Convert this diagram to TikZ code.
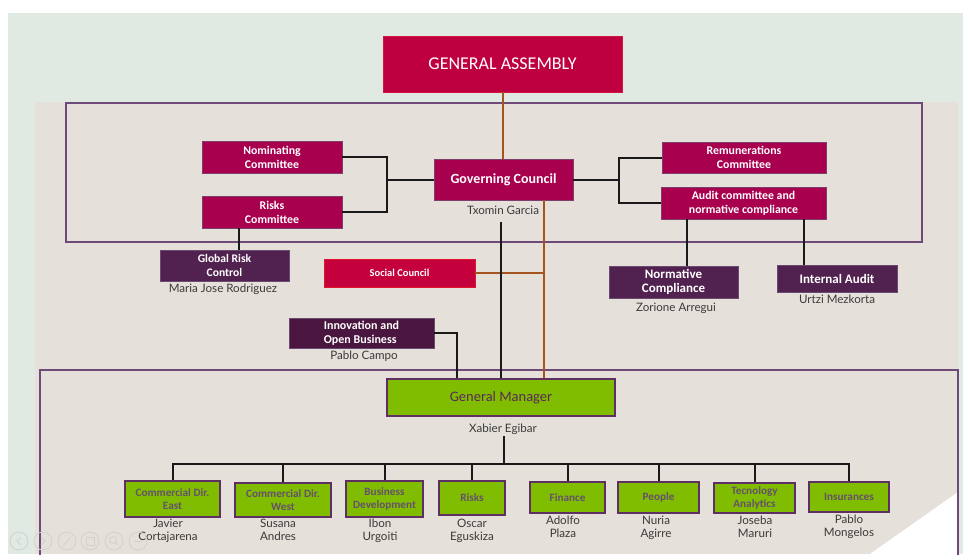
\documentclass[tikz,border=0pt]{standalone}
\usepackage{fontspec}
\setmainfont{Carlito}
\newfontfamily\namefont{Lato}
\usetikzlibrary{calc}
\definecolor{bggreen}{HTML}{E0EAE3}
\definecolor{beige}{HTML}{E5E1DA}
\definecolor{framepurple}{HTML}{6E4A78}
\definecolor{gafill}{HTML}{BE0040}
\definecolor{gaborder}{HTML}{D4143C}
\definecolor{cmag}{HTML}{A8004F}
\definecolor{cmagb}{HTML}{7E3E6C}
\definecolor{dpurple}{HTML}{51224F}
\definecolor{dpurpleb}{HTML}{6A4A70}
\definecolor{ipurple}{HTML}{4A163F}
\definecolor{socfill}{HTML}{C4003D}
\definecolor{socborder}{HTML}{E0142C}
\definecolor{gmgreen}{HTML}{80BD00}
\definecolor{gmborder}{HTML}{5E2F62}
\definecolor{gmtext}{HTML}{5A2A5A}
\definecolor{btext}{HTML}{65506E}
\definecolor{brownline}{HTML}{A6541E}
\definecolor{namegray}{HTML}{3A3A3A}
\tikzset{
  box/.style={draw, inner sep=1pt, align=center, text=white},
  gabox/.style={box, fill=gafill, draw=gaborder, line width=0.8pt, font=\fontsize{18}{20}\selectfont},
  govbox/.style={box, fill=cmag, draw=cmagb, line width=0.8pt, font=\bfseries\fontsize{14}{16}\selectfont},
  combox/.style={box, fill=cmag, draw=cmagb, line width=0.8pt, font=\bfseries\fontsize{11.8}{14}\selectfont},
  purplebox/.style={box, fill=dpurple, draw=dpurpleb, line width=0.8pt, font=\bfseries\fontsize{11.6}{14}\selectfont},
  socbox/.style={box, fill=socfill, draw=socborder, line width=0.9pt, font=\bfseries\fontsize{10.5}{12}\selectfont},
  gmbox/.style={box, fill=gmgreen, draw=gmborder, line width=1.2pt, text=gmtext, font=\fontsize{14.5}{16}\selectfont},
  depbox/.style={box, fill=gmgreen, draw=gmborder, line width=1.6pt, text=btext, font=\bfseries\fontsize{11.2}{13}\selectfont},
  person/.style={inner sep=1pt, align=center, text=namegray, font=\namefont\fontsize{11.6}{13}\selectfont},
  conn/.style={draw=black!90, line width=2pt},
  bconn/.style={draw=brownline, line width=2pt},
  frame/.style={draw=framepurple, line width=2pt},
  icon/.style={draw=black!18, line width=0.8pt}
}
\begin{document}
\begin{tikzpicture}[x=1pt,y=-1pt]
\useasboundingbox (0,0) rectangle (963,554);
% backgrounds
\fill[white] (0,0) rectangle (963,554);
\fill[bggreen] (8,13) rectangle (963,554);
\fill[beige] (35,102) rectangle (958,554);
\fill[white] (870,554) -- (958,492) -- (958,554) -- cycle;
% frames
\draw[frame] (66,103) rectangle (922,242);
\draw[frame] (40,560) -- (40,370) -- (958,370) -- (958,560);

% nodes
\node[gabox, minimum width=239pt, minimum height=56pt] (GA) at (502.5,64) {GENERAL ASSEMBLY};
\node[govbox, minimum width=139pt, minimum height=41pt] (Gov) at (503.5,179.5) {Governing Council};
\node[person, anchor=north] (txomin) at (503,205) {Txomin Garcia};
\node[combox, minimum width=140pt, minimum height=32pt] (Nom) at (272,157) {Nominating\\Committee};
\node[combox, minimum width=140pt, minimum height=32pt] (RisksC) at (272,212) {Risks\\Committee};
\node[combox, minimum width=164pt, minimum height=31pt] (Rem) at (744,157.5) {Remunerations\\Committee};
\node[combox, minimum width=165pt, minimum height=32pt] (Audit) at (743.5,203) {Audit committee and\\normative compliance};
\node[purplebox, minimum width=129pt, minimum height=31pt] (GRC) at (224.5,265.5) {Global Risk\\Control};
\node[person, anchor=north] (maria) at (223,283) {Maria Jose Rodriguez};
\node[socbox, minimum width=151pt, minimum height=28pt] (Social) at (399.5,273) {Social Council};
\node[purplebox, minimum width=129pt, minimum height=32pt, font=\bfseries\fontsize{13}{14.5}\selectfont] (NC) at (673.5,282) {Normative\\Compliance};
\node[person, anchor=north] (zorione) at (676,302) {Zorione Arregui};
\node[purplebox, minimum width=120pt, minimum height=27pt, font=\bfseries\fontsize{13}{14}\selectfont] (IA) at (837,278.5) {Internal Audit};
\node[person, anchor=north] (urtzi) at (837,294) {Urtzi Mezkorta};
\node[purplebox, fill=ipurple, minimum width=145pt, minimum height=30pt, align=left, font=\bfseries\fontsize{12}{14}\selectfont] (Innov) at (361.5,333) {Innovation and\\Open Business};
\node[person, anchor=north] (pablo) at (364,350) {Pablo Campo};
\node[gmbox, minimum width=228pt, minimum height=37pt] (GM) at (501,397.5) {General Manager};
\node[person, anchor=north] (xabier) at (503,423) {Xabier Egibar};

% departments
\node[depbox, minimum width=95pt, minimum height=36pt] (CE) at (172.5,499) {Commercial Dir.\\East};
\node[depbox, minimum width=96pt, minimum height=34pt] (CW) at (283,500) {Commercial Dir.\\West};
\node[depbox, minimum width=77pt, minimum height=36pt] (BD) at (384.5,499) {Business\\Development};
\node[depbox, minimum width=66pt, minimum height=34pt] (RK) at (472,498) {Risks};
\node[depbox, minimum width=75pt, minimum height=31pt] (FI) at (567.5,497.5) {Finance};
\node[depbox, minimum width=81pt, minimum height=31pt] (PE) at (658.5,497.5) {People};
\node[depbox, minimum width=81pt, minimum height=30pt] (TA) at (754.5,498) {Tecnology\\Analytics};
\node[depbox, minimum width=80pt, minimum height=30pt] (IN) at (849,497) {Insurances};

\node[person, anchor=north] (n1) at (168,518) {Javier\\Cortajarena};
\node[person, anchor=north] (n2) at (278,518) {Susana\\Andres};
\node[person, anchor=north] (n3) at (380,518) {Ibon\\Urgoiti};
\node[person, anchor=north] (n4) at (472,518) {Oscar\\Eguskiza};
\node[person, anchor=north] (n5) at (563,515) {Adolfo\\Plaza};
\node[person, anchor=north] (n6) at (656,515) {Nuria\\Agirre};
\node[person, anchor=north] (n7) at (755,515) {Joseba\\Maruri};
\node[person, anchor=north] (n8) at (849,514) {Pablo\\Mongelos};

% connectors
\draw[bconn] (GA.south) -- (GA.south |- Gov.north);
\coordinate (btop) at (544,200);
\draw[bconn] (btop) -- (btop |- GM.north);
\draw[bconn] (Social.east) -- (Social.east -| btop);
\coordinate (ktop) at (501,222);
\draw[conn] (ktop) -- (ktop |- GM.north);
\draw[conn] (Gov.west) -- ++(-47,0) coordinate (lj);
\draw[conn] (Nom.east) -| (lj) |- (RisksC.east);
\draw[conn] (Gov.east) -- ++(46,0) coordinate (rj);
\draw[conn] (Rem.west) -| (rj) |- (Audit.west);
\coordinate (rc) at (239,228);
\draw[conn] (rc) -- (rc |- GRC.north);
\coordinate (a1) at (687,219);
\draw[conn] (a1) -- (a1 |- NC.north);
\coordinate (a2) at (804,219);
\draw[conn] (a2) -- (a2 |- IA.north);
\coordinate (ij) at (457,333);
\draw[conn] (Innov.east) -- (ij) -- (ij |- GM.north);
\coordinate (bus) at (504,464);
\draw[conn] (xabier.south -| bus) -- (bus);
\foreach \n in {CE,CW,BD,RK,FI,PE,TA,IN}
  \draw[conn] (bus) -| (\n.north);

% faint presentation controls
\foreach \x in {19,43,67,90,114,138}
  \draw[icon] (\x,541) circle (9);
\draw[icon] (21,537) -- (17,541) -- (21,545);
\draw[icon] (41,537) -- (45,541) -- (41,545);
\draw[icon] (63,546) -- (71,537);
\draw[icon] (86,537) rectangle (94,545);
\draw[icon] (113,540) circle (3.5) (115.5,542.5) -- (118,545);
\draw[icon] (134,541) -- (142,541);
\end{tikzpicture}
\end{document}
